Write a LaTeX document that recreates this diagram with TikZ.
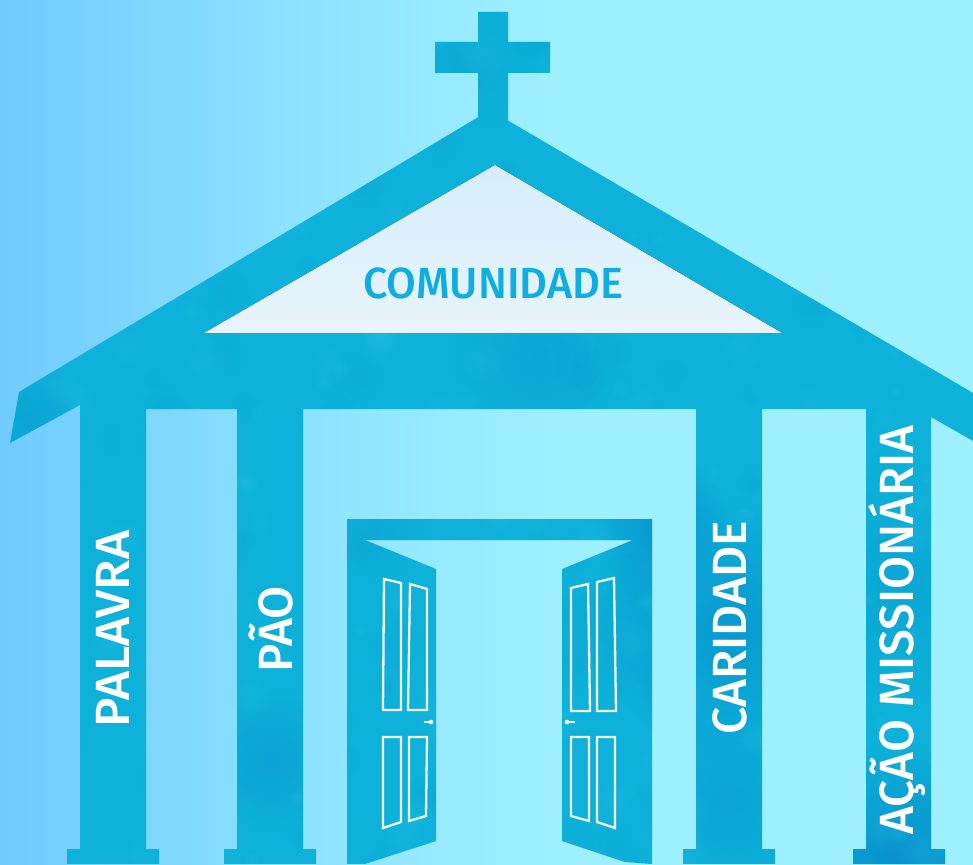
\documentclass[tikz,border=0pt]{standalone}
\usepackage{fontspec}
\setmainfont{Fira Sans Medium}
\usetikzlibrary{fadings}
\definecolor{skyA}{HTML}{70CBFF}
\definecolor{skyB}{HTML}{8DE2FF}
\definecolor{skyC}{HTML}{9FF0FF}
\definecolor{wash}{HTML}{0DB1D9}
\definecolor{washdark}{HTML}{0479C4}
\definecolor{washmid}{HTML}{0A90C8}
\definecolor{washlight}{HTML}{2CC4E8}
\definecolor{panelA}{HTML}{D5EEFC}
\definecolor{panelB}{HTML}{E8F4FB}
\definecolor{signblue}{HTML}{0FAEE2}
\definecolor{trim}{HTML}{F4F8F8}
\pgfdeclarehorizontalshading{skywash}{100bp}{color(0bp)=(skyA); color(25bp)=(skyA); color(40bp)=(skyB); color(54bp)=(skyC); color(100bp)=(skyC)}
\tikzfading[name=softblob, inner color=transparent!0, outer color=transparent!100]
\tikzset{
  doorpanel/.style={draw=trim, line width=2.3pt, line join=miter},
  knob/.style={draw=trim, line width=1.8pt},
  collabel/.style={text=white, rotate=90, inner sep=0pt, anchor=base, font=\fontsize{48}{50}\selectfont},
}
% water-colour stain inside the clipped silhouette
\newcommand{\stain}[5]{\fill[#4, opacity=#5, path fading=softblob] (#1,#2) circle[radius=#3];}
\begin{document}
\begin{tikzpicture}[x=1pt,y=-1pt]
\useasboundingbox (0,0) rectangle (973,864);
\fill[shading=skywash] (0,0) rectangle (973,864);

\begin{scope}
\clip
  % cross
  (478,12) -- (508,12) -- (508,42) -- (550,42) -- (550,73) -- (508,73) -- (508,125) -- (478,125) -- (478,73) -- (435,73) -- (435,42) -- (478,42) -- cycle
  % roof and columns
  (490,110) -- (973,393) -- (973,441) -- (931,417) -- (931,849) -- (945,849) -- (945,864) -- (853,864) -- (853,849) -- (866,849)
  -- (866,409) -- (762,409) -- (762,849) -- (775,849) -- (775,864) -- (683,864) -- (683,849) -- (696,849)
  -- (696,409) -- (303,409) -- (303,849) -- (316,849) -- (316,864) -- (224,864) -- (224,849) -- (237,849)
  -- (237,409) -- (146,409) -- (146,849) -- (159,849) -- (159,864) -- (67,864) -- (67,849) -- (80,849)
  -- (80,405) -- (10,443) -- (19,392) -- cycle
  % door frame and open leaves
  (347,519) -- (652,519) -- (652,864) -- (625,862) -- (562,841) -- (562,569) -- (633,540) -- (365,540) -- (436,569) -- (436,841) -- (365,864) -- (347,864) -- cycle;
\fill[wash] (0,0) rectangle (973,864);
% broad darker washes
\stain{900}{860}{115}{washdark}{.60}
\stain{900}{580}{120}{washdark}{.18}
\stain{730}{630}{130}{washdark}{.42}
\stain{730}{800}{90}{washdark}{.22}
\stain{270}{760}{70}{washdark}{.25}
\stain{540}{355}{90}{washdark}{.16}
\stain{660}{525}{70}{washdark}{.45}
\stain{30}{420}{55}{washdark}{.22}
\stain{600}{640}{60}{washdark}{.08}
\stain{380}{530}{50}{washdark}{.10}
\stain{470}{60}{70}{washdark}{.08}
% fine mottling of the paint
\pgfmathsetseed{17}
\foreach \n in {1,...,170}{
  \pgfmathsetmacro{\px}{int(rnd*973)}
  \pgfmathsetmacro{\py}{int(rnd*864)}
  \pgfmathsetmacro{\pr}{8+rnd*20}
  \stain{\px}{\py}{\pr}{washmid}{.10}
  \pgfmathsetmacro{\qx}{int(rnd*973)}
  \pgfmathsetmacro{\qy}{int(rnd*864)}
  \pgfmathsetmacro{\qr}{8+rnd*22}
  \stain{\qx}{\qy}{\qr}{washlight}{.22}
}
\end{scope}

% gable panel
\fill[top color=panelA, bottom color=panelB] (495,165) -- (782,333) -- (204,333) -- cycle;
\node[text=signblue, inner sep=0pt, anchor=base, font=\fontsize{43.5}{50}\selectfont] (sign) at (493,298) {\scalebox{.99}[1]{COMUNIDADE}};

% left leaf
\draw[doorpanel] (384,579) -- (401,583) -- (401,710) -- (383,710) -- cycle;
\draw[doorpanel] (410,584) -- (427,589) -- (427,710) -- (408,710) -- cycle;
\draw[doorpanel] (383,737) -- (401,737) -- (401,822) -- (383,828) -- cycle;
\draw[doorpanel] (409,737) -- (427,737) -- (426,816) -- (409,821) -- cycle;
\draw[knob] (424,722) -- (430,722);
\fill[trim] (431,722) circle[radius=2.3];

% right leaf
\draw[doorpanel] (571,588) -- (588,584) -- (590,711) -- (571,711) -- cycle;
\draw[doorpanel] (597,582) -- (614,578) -- (616,711) -- (597,711) -- cycle;
\draw[doorpanel] (571,737) -- (589,737) -- (589,821) -- (571,816) -- cycle;
\draw[doorpanel] (597,737) -- (615,737) -- (615,828) -- (597,822) -- cycle;
\draw[knob] (568,722) -- (575,722);
\fill[trim] (567,722) circle[radius=2.3];

% column labels, placed by their baselines
\node[collabel] (palavra) at (129,629) {\scalebox{1.04}[1]{PALAVRA}};
\node[collabel] (pao) at (292,629) {PÃO};
\node[collabel] (caridade) at (746,628) {CARIDADE};
\node[collabel] (acao) at (913,630) {\scalebox{.995}[1]{AÇÃO MISSIONÁRIA}};
\end{tikzpicture}
\end{document}
